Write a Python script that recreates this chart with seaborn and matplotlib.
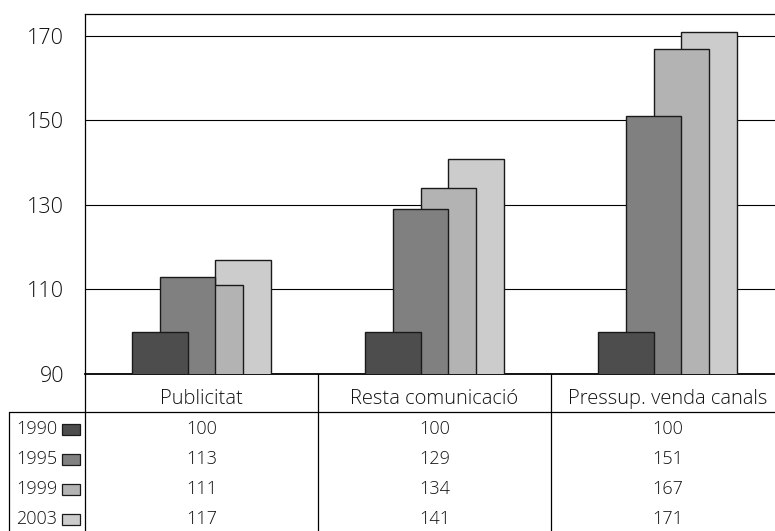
import numpy as np
import pandas as pd
import seaborn as sns
import matplotlib.pyplot as plt
from matplotlib.patches import Rectangle
import matplotlib.transforms as mtransforms

# dades
categories = ["Publicitat", "Resta comunicació", "Pressup. venda canals"]
years = ["1990", "1995", "1999", "2003"]
v1990 = [100, 100, 100]
v1995 = [113, 129, 151]
v1999 = [111, 134, 167]
v2003 = [117, 141, 171]
series = [v1990, v1995, v1999, v2003]
colors = ["#4d4d4d", "#808080", "#b3b3b3", "#cccccc"]
yticks = [90, 110, 130, 150, 170]

sns.set_style("white")
plt.rcParams["font.family"] = ["Open Sans", "DejaVu Sans"]
plt.rcParams["font.weight"] = 300

fig = plt.figure(figsize=(7.75, 5.31), dpi=100)
ax = fig.add_axes([85 / 775, 1 - 374 / 531, 699 / 775, 360 / 531])

offsets = [-0.18, -0.06, 0.06, 0.18]
idx = np.arange(len(categories))
# l'ultima serie es dibuixa primer
for i in reversed(range(len(years))):
    df = pd.DataFrame({"x": idx + offsets[i], "y": series[i]})
    sns.barplot(data=df, x="x", y="y", native_scale=True, width=0.24,
                color=colors[i], saturation=1, edgecolor="#1a1a1a",
                linewidth=1, ax=ax, zorder=3 + (3 - i))

ax.set_xlim(-0.5, 2.5)
ax.set_ylim(90, 175.2)
ax.set_yticks(yticks)
ax.set_yticklabels([str(t) for t in yticks], fontsize=15.5)
ax.set_xticks([])
ax.set_xlabel("")
ax.set_ylabel("")
ax.tick_params(axis="y", length=0, pad=15, colors="#111111")
ax.grid(axis="y", color="black", linewidth=0.8)
ax.set_axisbelow(True)
for s in ["top", "left", "bottom"]:
    ax.spines[s].set_visible(True)
    ax.spines[s].set_color("black")
    ax.spines[s].set_linewidth(0.9)
ax.spines["bottom"].set_linewidth(1.3)
ax.spines["right"].set_visible(False)

# taula de dades
tr = mtransforms.blended_transform_factory(ax.transData, ax.transAxes)
px_y = lambda y: (374 - y) / 360
px_x = lambda x: (x - 85) / 233 - 0.5
ybot = px_y(531)
yhead = px_y(412)
line_kw = dict(color="black", linewidth=0.9, transform=tr, clip_on=False)
ax.plot([-0.5, -0.5], [0, ybot], **line_kw)
ax.plot([0.5, 0.5], [0, ybot], **line_kw)
ax.plot([1.5, 1.5], [0, ybot], **line_kw)
ax.plot([px_x(9), px_x(9)], [yhead, ybot], **line_kw)
ax.plot([px_x(9), 2.5], [yhead, yhead], **line_kw)

for j, cat in enumerate(categories):
    ax.text(j, px_y(399), cat, transform=tr, ha="center", va="center",
            fontsize=14.5, color="#111111")

row_y = [429.5, 459.5, 489.5, 519.5]
for i, yr in enumerate(years):
    yy = px_y(row_y[i])
    ax.text(px_x(57), yy, yr, transform=tr, ha="right", va="center",
            fontsize=13, color="#111111")
    ax.add_patch(Rectangle((px_x(62), px_y(row_y[i] + 5.5)), 18 / 233, 11 / 360,
                           transform=tr, facecolor=colors[i], edgecolor="#1a1a1a",
                           linewidth=0.9, clip_on=False))
    for j in range(len(categories)):
        ax.text(j, yy, str(series[i][j]), transform=tr, ha="center", va="center",
                fontsize=13, color="#111111")

fig.savefig("out.png", dpi=100)
